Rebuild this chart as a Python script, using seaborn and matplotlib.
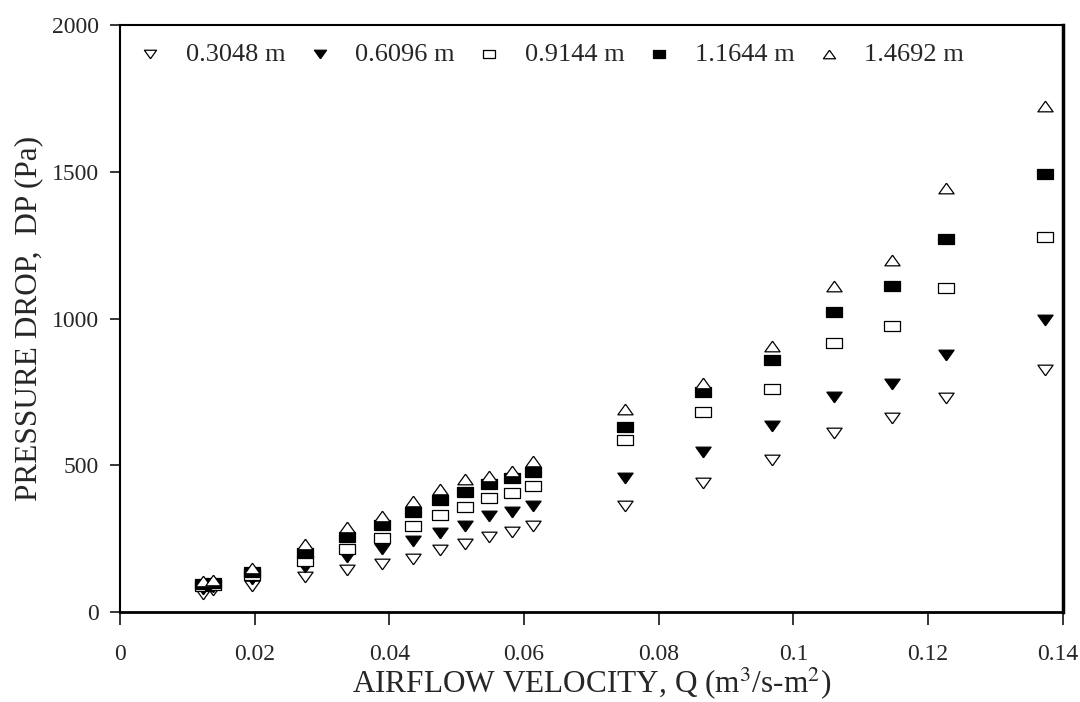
import matplotlib
matplotlib.use('Agg')
import matplotlib.pyplot as plt
import matplotlib.transforms as mtransforms
import seaborn as sns
import pandas as pd

# airflow velocity, m3/s-m2
q = [0.0123, 0.0138, 0.0196, 0.0275, 0.0337, 0.0389, 0.0435, 0.0475, 0.0512,
     0.0548, 0.0582, 0.0613, 0.0750, 0.0866, 0.0968, 0.1061, 0.1146, 0.1226, 0.1373]

# pressure drop (Pa) for each bed depth
dp_03048 = [62, 75, 88, 119, 142, 163, 181, 211, 232, 255, 273, 293, 361, 439, 518, 610, 661, 729, 825]
dp_06096 = [80, 85, 112, 154, 188, 215, 242, 270, 293, 327, 341, 362, 456, 545, 634, 733, 777, 876, 995]
dp_09144 = [88, 92, 128, 174, 214, 252, 293, 330, 358, 388, 406, 429, 586, 681, 760, 917, 974, 1104, 1278]
dp_11644 = [95, 98, 138, 200, 257, 296, 341, 382, 410, 435, 456, 477, 630, 750, 859, 1022, 1111, 1271, 1492]
dp_14692 = [105, 108, 150, 231, 289, 327, 379, 420, 453, 463, 480, 515, 692, 780, 906, 1111, 1199, 1444, 1724]

depths = ['0.3048 m', '0.6096 m', '0.9144 m', '1.1644 m', '1.4692 m']
series = [dp_03048, dp_06096, dp_09144, dp_11644, dp_14692]

rows = []
for name, vals in zip(depths, series):
    for x, y in zip(q, vals):
        rows.append({'Q': x, 'DP': y, 'depth': name})
df = pd.DataFrame(rows)

# flattened markers like the scanned figure
tri_down = [(0, -0.7), (-1, 0.7), (1, 0.7), (0, -0.7)]
tri_up = [(0, 0.7), (-1, -0.7), (1, -0.7), (0, 0.7)]
rect = [(-1, -0.7), (1, -0.7), (1, 0.7), (-1, 0.7), (-1, -0.7)]

styles = {
    '0.3048 m': (tri_down, 'white'),
    '0.6096 m': (tri_down, 'black'),
    '0.9144 m': (rect, 'white'),
    '1.1644 m': (rect, 'black'),
    '1.4692 m': (tri_up, 'white'),
}

sns.set_style('ticks')
plt.rcParams['font.family'] = ['Liberation Serif', 'DejaVu Serif']
plt.rcParams['mathtext.fontset'] = 'stix'

fig = plt.figure(figsize=(10.8, 7.02), dpi=100)
ax = fig.add_axes([0.111, 0.128, 0.873, 0.836])

for name in depths:
    marker, face = styles[name]
    sub = df[df['depth'] == name]
    sns.scatterplot(data=sub, x='Q', y='DP', marker=marker, color=face,
                    edgecolor='black', linewidth=0.9, s=120, ax=ax, label=name)

ax.set_xlim(0, 0.14)
ax.set_ylim(0, 2000)
ax.set_xticks([0, 0.02, 0.04, 0.06, 0.08, 0.1, 0.12, 0.14])
ax.set_xticklabels(['0', '0.02', '0.04', '0.06', '0.08', '0.1', '0.12', '0.14'])
ax.set_yticks([0, 500, 1000, 1500, 2000])
ax.tick_params(axis='x', direction='out', length=9, width=1.3, labelsize=17, pad=14)
ax.tick_params(axis='y', direction='out', length=7, width=1.3, labelsize=17, pad=8)
for sp in ax.spines.values():
    sp.set_visible(True)
    sp.set_linewidth(1.5)
    sp.set_color('black')
ax.spines['right'].set_linewidth(2.5)
ax.spines['bottom'].set_linewidth(2.0)

# keep the last x label inside the canvas
last = ax.get_xticklabels()[-1]
last.set_transform(last.get_transform() +
                   mtransforms.ScaledTranslation(-5 / 100, 0, fig.dpi_scale_trans))

ax.set_xlabel('AIRFLOW VELOCITY, Q (m$^3$/s-m$^2$)', fontsize=22.5, labelpad=0)
ax.set_ylabel('PRESSURE DROP,  DP (Pa)', fontsize=22.5, labelpad=6)

leg = ax.legend(loc='upper left', ncol=5, frameon=False, fontsize=19,
                markerscale=0.8, handlelength=1.0, handletextpad=0.85,
                columnspacing=0.8, borderaxespad=0.25,
                bbox_to_anchor=(0.0, 1.0))

fig.savefig('out.png', dpi=100)
